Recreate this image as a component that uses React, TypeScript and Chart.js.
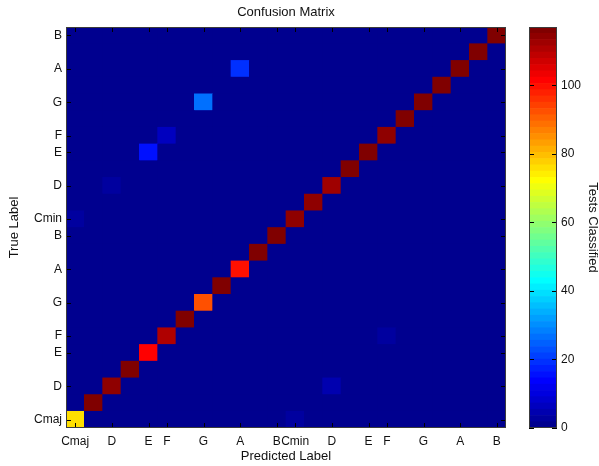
import React, { useEffect, useRef } from 'react';
import { Chart, registerables } from 'chart.js';

Chart.register(...registerables);

// ---------------- data ----------------
const CLASSES = [
  'Cmaj', 'C#maj', 'Dmaj', 'D#maj', 'Emaj', 'Fmaj', 'F#maj', 'Gmaj', 'G#maj', 'Amaj', 'A#maj', 'Bmaj',
  'Cmin', 'C#min', 'Dmin', 'D#min', 'Emin', 'Fmin', 'F#min', 'Gmin', 'G#min', 'Amin', 'A#min', 'Bmin',
];
const TICK_INDEX = [0, 2, 4, 5, 7, 9, 11, 12, 14, 16, 17, 19, 21, 23];
const TICK_LABELS = ['Cmaj', 'D', 'E', 'F', 'G', 'A', 'B', 'Cmin', 'D', 'E', 'F', 'G', 'A', 'B'];

// correct classifications (diagonal), row = true class
const DIAGONAL = [76, 116, 114, 117, 101, 110, 117, 92, 117, 99, 117, 117, 114, 115, 112, 116, 116, 114, 117, 117, 117, 117, 116, 117];

// misclassifications: true row, predicted column, count
const OFF_ROW = [21, 19, 17, 16, 14, 12, 5, 2, 0];
const OFF_COL = [9, 7, 5, 4, 2, 0, 17, 14, 12];
const OFF_VAL = [19, 26, 7, 15, 3, 3, 2, 4, 3];

const COLORBAR_TICKS = [0, 20, 40, 60, 80, 100];

// ---------------- helpers ----------------
function buildMatrix(): number[][] {
  const m = CLASSES.map((_, r) => CLASSES.map((__, c) => (r === c ? DIAGONAL[r] : 0)));
  OFF_ROW.forEach((r, i) => {
    m[r][OFF_COL[i]] = OFF_VAL[i];
  });
  return m;
}
const MATRIX = buildMatrix();
const CMAX = Math.max(...MATRIX.map((r) => Math.max(...r)));
const NCOLORS = 64;

// MATLAB jet(64)
function jet(i: number): string {
  let r = 0, g = 0, b = 0;
  if (i <= 24) r = 0; else if (i <= 40) r = (i - 24) / 16; else if (i <= 55) r = 1; else r = (72 - i) / 16;
  if (i <= 8) g = 0; else if (i <= 24) g = (i - 8) / 16; else if (i <= 39) g = 1; else if (i <= 55) g = (56 - i) / 16; else g = 0;
  if (i <= 8) b = (i + 8) / 16; else if (i <= 23) b = 1; else if (i <= 39) b = (40 - i) / 16; else b = 0;
  return `rgb(${Math.round(r * 255)},${Math.round(g * 255)},${Math.round(b * 255)})`;
}
function colorFor(v: number): string {
  const idx = Math.min(NCOLORS, Math.floor((v / CMAX) * NCOLORS) + 1);
  return jet(idx);
}
function labelFor(v: number): string {
  const k = TICK_INDEX.indexOf(v);
  return k >= 0 ? TICK_LABELS[k] : '';
}

const FONT = "'Liberation Sans', Arial, Helvetica, sans-serif";
const TEXT = '#111';
const BOX = '#3c3c3c';

const heatmapDecor = {
  id: 'heatmapDecor',
  beforeDatasetsDraw(chart: any) {
    const { ctx, chartArea: a } = chart;
    ctx.save();
    ctx.fillStyle = colorFor(0);
    ctx.fillRect(a.left, a.top, a.right - a.left, a.bottom - a.top);
    ctx.restore();
  },
  afterDatasetsDraw(chart: any) {
    const { ctx, chartArea: a, scales } = chart;
    const L = 5;
    ctx.save();
    ctx.strokeStyle = '#000';
    ctx.lineWidth = 1;
    ctx.beginPath();
    scales.x.ticks.forEach((t: any) => {
      const px = Math.round(scales.x.getPixelForValue(t.value)) + 0.5;
      ctx.moveTo(px, a.bottom); ctx.lineTo(px, a.bottom - L);
      ctx.moveTo(px, a.top); ctx.lineTo(px, a.top + L);
    });
    scales.y.ticks.forEach((t: any) => {
      const py = Math.round(scales.y.getPixelForValue(t.value)) + 0.5;
      ctx.moveTo(a.left, py); ctx.lineTo(a.left + L, py);
      ctx.moveTo(a.right, py); ctx.lineTo(a.right - L, py);
    });
    ctx.stroke();
    ctx.strokeStyle = BOX;
    ctx.strokeRect(a.left + 0.5, a.top + 0.5, a.right - a.left - 1, a.bottom - a.top - 1);
    ctx.restore();
  },
};

const colorbarDecor = {
  id: 'colorbarDecor',
  afterDatasetsDraw(chart: any) {
    const { ctx, chartArea: a, scales } = chart;
    const L = 5;
    ctx.save();
    ctx.strokeStyle = '#000';
    ctx.lineWidth = 1;
    ctx.beginPath();
    scales.y.ticks.forEach((t: any) => {
      const py = Math.round(scales.y.getPixelForValue(t.value)) + 0.5;
      ctx.moveTo(a.left, py); ctx.lineTo(a.left + L, py);
      ctx.moveTo(a.right, py); ctx.lineTo(a.right - L, py);
    });
    ctx.stroke();
    ctx.strokeStyle = BOX;
    ctx.strokeRect(a.left + 0.5, a.top + 0.5, a.right - a.left - 1, a.bottom - a.top - 1);
    ctx.restore();
  },
};

export default function App() {
  const mainRef = useRef<HTMLCanvasElement | null>(null);
  const cbRef = useRef<HTMLCanvasElement | null>(null);

  useEffect(() => {
    if (!mainRef.current || !cbRef.current) return;
    Chart.defaults.font.family = FONT;

    const datasets = MATRIX.map((row, r) => ({
      label: CLASSES[r],
      data: row.map((_, c) => ({ x: c, y: [r - 0.5, r + 0.5] })),
      backgroundColor: row.map((v) => colorFor(v)),
      borderWidth: 0,
      barPercentage: 1,
      categoryPercentage: 1,
      grouped: false,
    }));

    const main = new Chart(mainRef.current, {
      type: 'bar',
      data: { datasets: datasets as any },
      plugins: [heatmapDecor],
      options: {
        responsive: false,
        animation: false,
        devicePixelRatio: 1,
        events: [],
        layout: { padding: { left: 0, right: 93, top: 0, bottom: 0 } },
        plugins: {
          legend: { display: false },
          tooltip: { enabled: false },
          title: {
            display: true,
            text: 'Confusion Matrix',
            fullSize: false,
            color: TEXT,
            font: { size: 13, weight: 'normal', family: FONT },
            padding: { top: 5, bottom: 6.4 },
          },
        },
        scales: {
          x: {
            type: 'linear',
            min: -0.5,
            max: 23.5,
            offset: false,
            afterBuildTicks: (s: any) => {
              s.ticks = TICK_INDEX.map((v) => ({ value: v }));
            },
            afterFit: (s: any) => {
              s.height = 38;
            },
            grid: { display: false, drawTicks: false },
            border: { display: false },
            ticks: {
              autoSkip: false,
              maxRotation: 0,
              minRotation: 0,
              padding: 6,
              color: TEXT,
              font: { size: 12, family: FONT },
              callback: (v: any) => labelFor(Number(v)),
            },
            title: {
              display: true,
              text: 'Predicted Label',
              color: TEXT,
              font: { size: 13, family: FONT },
              padding: { top: 0, bottom: 2 },
            },
          },
          y: {
            type: 'linear',
            min: -0.5,
            max: 23.5,
            afterBuildTicks: (s: any) => {
              s.ticks = TICK_INDEX.map((v) => ({ value: v }));
            },
            afterFit: (s: any) => {
              s.width = 66;
            },
            grid: { display: false, drawTicks: false },
            border: { display: false },
            ticks: {
              autoSkip: false,
              padding: 4,
              color: TEXT,
              font: { size: 12, family: FONT },
              callback: (v: any) => labelFor(Number(v)),
            },
            title: {
              display: true,
              text: 'True Label',
              color: TEXT,
              font: { size: 13, family: FONT },
              padding: { top: 7, bottom: 0 },
            },
          },
        },
      } as any,
    });

    const cbDatasets = Array.from({ length: NCOLORS }, (_, i) => ({
      label: `c${i}`,
      data: [CMAX / NCOLORS],
      backgroundColor: jet(i + 1),
      borderWidth: 0,
      barPercentage: 1,
      categoryPercentage: 1,
    }));

    const cb = new Chart(cbRef.current, {
      type: 'bar',
      data: { labels: ['cb'], datasets: cbDatasets as any },
      plugins: [colorbarDecor],
      options: {
        responsive: false,
        animation: false,
        devicePixelRatio: 1,
        events: [],
        layout: { padding: { left: 19, right: 0, top: 27, bottom: 38 } },
        plugins: { legend: { display: false }, tooltip: { enabled: false }, title: { display: false } },
        scales: {
          x: { display: false, stacked: true },
          y: {
            position: 'right',
            stacked: true,
            min: 0,
            max: CMAX,
            afterBuildTicks: (s: any) => {
              s.ticks = COLORBAR_TICKS.map((v) => ({ value: v }));
            },
            afterFit: (s: any) => {
              s.width = 42;
            },
            grid: { display: false, drawTicks: false },
            border: { display: false },
            ticks: { padding: 4, color: TEXT, font: { size: 12, family: FONT } },
            title: {
              display: true,
              text: 'Tests Classified',
              color: TEXT,
              font: { size: 13, family: FONT },
              padding: { top: -1, bottom: 0 },
            },
          },
        },
      } as any,
    });

    return () => {
      main.destroy();
      cb.destroy();
    };
  }, []);

  return (
    <div style={{ position: 'fixed', left: 0, top: 0, width: 599, height: 466, background: '#fff', overflow: 'hidden' }}>
      <canvas ref={mainRef} width={599} height={466} style={{ position: 'absolute', left: 0, top: 0 }} />
      <canvas ref={cbRef} width={89} height={466} style={{ position: 'absolute', left: 510, top: 0 }} />
    </div>
  );
}
